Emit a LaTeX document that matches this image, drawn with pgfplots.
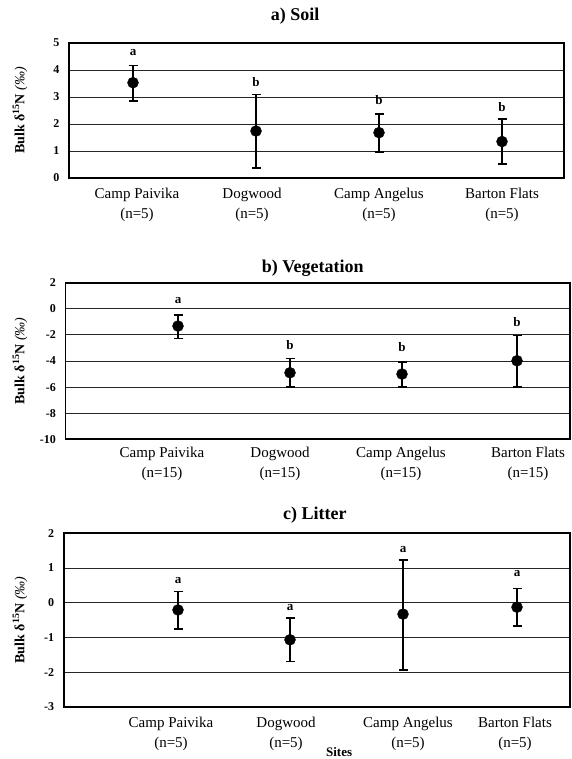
\documentclass[border=0pt]{standalone}
\usepackage{fontspec}
\setmainfont{Liberation Serif}
\usepackage{pgfplots}
\pgfplotsset{compat=1.18}

\pgfplotsset{
  siteaxis/.style={
    scale only axis,
    axis line style={line width=1.8pt},
    ymajorgrids,
    grid style={line width=0.9pt, black!85},
    major tick length=0pt,
    /pgf/number format/assume math mode=true,
    yticklabel style={font=\bfseries\fontsize{12}{12}\selectfont, xshift=-6pt},
    xticklabel style={align=center, font=\fontsize{15}{20}\selectfont},
    title style={font=\bfseries\fontsize{18}{18}\selectfont, anchor=center},
    ylabel={\textbf{Bulk δ\textsuperscript{15}N} \textit{(‰)}},
    ylabel style={anchor=center, font=\fontsize{14}{14}\selectfont},
    clip=false,
  },
  means/.style={only marks, mark=*, mark size=5.5pt, black,
    error bars/y dir=both, error bars/y explicit,
    error bars/error bar style={line width=1.6pt, black},
    error bars/error mark options={rotate=90, line width=1.6pt, mark size=4.5pt, black}},
  letters/.style={only marks, mark=*, mark size=0pt,
    nodes near coords, point meta=explicit symbolic,
    nodes near coords style={anchor=center, font=\bfseries\fontsize{13}{13}\selectfont}},
}

\begin{document}
\begin{tikzpicture}
\useasboundingbox (0pt,0pt) rectangle (571pt,-759pt);

% a) Soil
\begin{axis}[siteaxis,
  at={(69pt,-178pt)}, anchor=south west,
  width=495pt, height=135pt,
  xmin=69, xmax=564, ymin=0, ymax=5, ytick={0,1,2,3,4,5},
  xtick={137,252,379,502},
  xticklabels={{Camp Paivika\\(n=5)},{Dogwood\\(n=5)},{Camp Angelus\\(n=5)},{Barton Flats\\(n=5)}},
  title={a) Soil}, title style={at={(axis description cs:0.457,1)}, yshift=21pt},
  ylabel style={at={(axis description cs:-0.099,0.5)}},
  xticklabel style={yshift=-7pt},
]
\addplot[means] coordinates {
  (133,3.53) += (0,0.63) -= (0,0.67)
  (256,1.74) += (0,1.36) -= (0,1.36)
  (379,1.68) += (0,0.68) -= (0,0.71)
  (502,1.35) += (0,0.84) -= (0,0.84)
};
\addplot[letters] coordinates {
  (133,4.63) [a]
  (256,3.57) [b]
  (379,2.89) [b]
  (502,2.63) [b]
};
\end{axis}

% b) Vegetation
\begin{axis}[siteaxis,
  at={(65.5pt,-439.3pt)}, anchor=south west,
  width=504.5pt, height=156.6pt,
  xmin=65.5, xmax=570, ymin=-10, ymax=2, ytick={-10,-8,-6,-4,-2,0,2},
  xtick={162,280,401,528},
  xticklabels={{Camp Paivika\\(n=15)},{Dogwood\\(n=15)},{Camp Angelus\\(n=15)},{Barton Flats\\(n=15)}},
  title={b) Vegetation}, title style={at={(axis description cs:0.49,1)}, yshift=8pt},
  ylabel style={at={(axis description cs:-0.0902,0.5)}},
  xticklabel style={yshift=-4pt},
]
\addplot[means] coordinates {
  (178,-1.32) += (0,0.85) -= (0,0.97)
  (290,-4.90) += (0,1.10) -= (0,1.07)
  (402,-5.00) += (0,0.92) -= (0,0.97)
  (517,-3.98) += (0,1.92) -= (0,1.99)
};
\addplot[letters] coordinates {
  (178,0.60) [a]
  (290,-2.77) [b]
  (402,-2.90) [b]
  (517,-1.03) [b]
};
\end{axis}

% c) Litter
\begin{axis}[siteaxis,
  at={(63.7pt,-706.7pt)}, anchor=south west,
  width=506.3pt, height=173.4pt,
  xmin=63.7, xmax=570, ymin=-3, ymax=2, ytick={-3,-2,-1,0,1,2},
  xtick={171,286,408,515},
  xticklabels={{Camp Paivika\\(n=5)},{Dogwood\\(n=5)},{Camp Angelus\\(n=5)},{Barton Flats\\(n=5)}},
  title={c) Litter}, title style={at={(axis description cs:0.496,1)}, yshift=12pt},
  ylabel style={at={(axis description cs:-0.0863,0.5)}},
  xticklabel style={yshift=-6.7pt},
  xlabel={Sites},
  xlabel style={at={(axis description cs:0.544,0)}, anchor=center, yshift=-45pt,
    font=\bfseries\fontsize{13}{13}\selectfont},
]
\addplot[means] coordinates {
  (178,-0.21) += (0,0.53) -= (0,0.55)
  (290,-1.07) += (0,0.62) -= (0,0.63)
  (403,-0.33) += (0,1.56) -= (0,1.61)
  (517,-0.13) += (0,0.54) -= (0,0.54)
};
\addplot[letters] coordinates {
  (178,0.65) [a]
  (290,-0.15) [a]
  (403,1.52) [a]
  (517,0.85) [a]
};
\end{axis}
\end{tikzpicture}
\end{document}
